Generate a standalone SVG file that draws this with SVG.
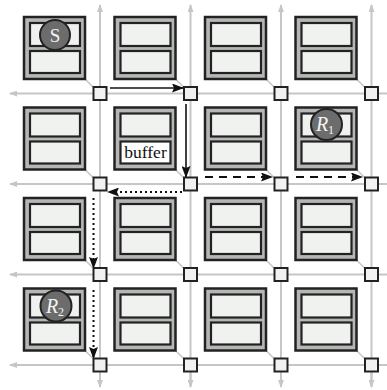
<svg xmlns="http://www.w3.org/2000/svg" width="387" height="390" viewBox="0 0 387 390">
<defs>
<style>
.g{stroke:#c6c6c6;stroke-width:2;fill:none}
.gd{stroke:#c6c6c6;stroke-width:1.5;fill:none}
.tile{fill:#b6b6b6;stroke:#222;stroke-width:2.5}
.in{fill:#f0f2f0;stroke:#222;stroke-width:2.2}
.rt{fill:#f0f2f0;stroke:#222;stroke-width:2}
.a{stroke:#111;stroke-width:1.6;fill:none}
.dot{stroke:#111;stroke-width:2;fill:none;stroke-dasharray:2 3}
.dash{stroke:#111;stroke-width:2;fill:none;stroke-dasharray:8 6}
.c{fill:#6c6c6c;stroke:#222;stroke-width:2}
.ct{fill:#f4f4f4;font-family:'Liberation Serif','DejaVu Serif',serif}
</style>
<marker id="ah" markerWidth="12" markerHeight="9" refX="11" refY="4.5" orient="auto" markerUnits="userSpaceOnUse"><path d="M0,0 L12,4.5 L0,9 L2,4.5 Z" fill="#111"/></marker>
<marker id="gh" markerWidth="8" markerHeight="6" refX="7" refY="3" orient="auto" markerUnits="userSpaceOnUse"><path d="M0,0 L8,3 L0,6 Z" fill="#c6c6c6"/></marker>
</defs>
<g id="grid">
<line class="g" x1="100" y1="386" x2="100" y2="5" marker-end="url(#gh)"/>
<line class="g" x1="190.5" y1="386" x2="190.5" y2="5" marker-end="url(#gh)"/>
<line class="g" x1="281" y1="386" x2="281" y2="5" marker-end="url(#gh)"/>
<line class="g" x1="371.5" y1="386" x2="371.5" y2="5" marker-end="url(#gh)"/>
<line class="g" x1="100" y1="372" x2="100" y2="387" marker-end="url(#gh)"/>
<line class="g" x1="190.5" y1="372" x2="190.5" y2="387" marker-end="url(#gh)"/>
<line class="g" x1="281" y1="372" x2="281" y2="387" marker-end="url(#gh)"/>
<line class="g" x1="371.5" y1="372" x2="371.5" y2="387" marker-end="url(#gh)"/>
<line class="g" x1="387" y1="93.5" x2="10" y2="93.5" marker-end="url(#gh)"/>
<line class="g" x1="387" y1="184" x2="10" y2="184" marker-end="url(#gh)"/>
<line class="g" x1="387" y1="274.5" x2="10" y2="274.5" marker-end="url(#gh)"/>
<line class="g" x1="387" y1="365" x2="10" y2="365" marker-end="url(#gh)"/>
</g>
<g id="links">
<path class="gd" d="M85,79L93,87M175.5,79L183.5,87M266,79L274,87M356.5,79L364.5,87M85,169.5L93,177.5M175.5,169.5L183.5,177.5M266,169.5L274,177.5M356.5,169.5L364.5,177.5M85,260L93,268M175.5,260L183.5,268M266,260L274,268M356.5,260L364.5,268M85,350.5L93,358.5M175.5,350.5L183.5,358.5M266,350.5L274,358.5M356.5,350.5L364.5,358.5"/>
</g>
<g id="tiles">
<g id="pe11"><rect class="tile" x="24" y="17" width="61" height="62"/><rect class="in" x="30" y="23" width="50" height="23"/><rect class="in" x="30" y="51" width="50" height="22"/></g>
<g id="pe12"><rect class="tile" x="114.5" y="17" width="61" height="62"/><rect class="in" x="120.5" y="23" width="50" height="23"/><rect class="in" x="120.5" y="51" width="50" height="22"/></g>
<g id="pe13"><rect class="tile" x="205" y="17" width="61" height="62"/><rect class="in" x="211" y="23" width="50" height="23"/><rect class="in" x="211" y="51" width="50" height="22"/></g>
<g id="pe14"><rect class="tile" x="295.5" y="17" width="61" height="62"/><rect class="in" x="301.5" y="23" width="50" height="23"/><rect class="in" x="301.5" y="51" width="50" height="22"/></g>
<g id="pe21"><rect class="tile" x="24" y="107.5" width="61" height="62"/><rect class="in" x="30" y="113.5" width="50" height="23"/><rect class="in" x="30" y="141.5" width="50" height="22"/></g>
<g id="pe22"><rect class="tile" x="114.5" y="107.5" width="61" height="62"/><rect class="in" x="120.5" y="113.5" width="50" height="23"/><rect class="in" x="120.5" y="141.5" width="50" height="22" style="fill:#fff"/><text x="145.5" y="157.5" text-anchor="middle" font-family="'Liberation Serif','DejaVu Serif',serif" font-size="17.5" fill="#111">buffer</text></g>
<g id="pe23"><rect class="tile" x="205" y="107.5" width="61" height="62"/><rect class="in" x="211" y="113.5" width="50" height="23"/><rect class="in" x="211" y="141.5" width="50" height="22"/></g>
<g id="pe24"><rect class="tile" x="295.5" y="107.5" width="61" height="62"/><rect class="in" x="301.5" y="113.5" width="50" height="23"/><rect class="in" x="301.5" y="141.5" width="50" height="22"/></g>
<g id="pe31"><rect class="tile" x="24" y="198" width="61" height="62"/><rect class="in" x="30" y="204" width="50" height="23"/><rect class="in" x="30" y="232" width="50" height="22"/></g>
<g id="pe32"><rect class="tile" x="114.5" y="198" width="61" height="62"/><rect class="in" x="120.5" y="204" width="50" height="23"/><rect class="in" x="120.5" y="232" width="50" height="22"/></g>
<g id="pe33"><rect class="tile" x="205" y="198" width="61" height="62"/><rect class="in" x="211" y="204" width="50" height="23"/><rect class="in" x="211" y="232" width="50" height="22"/></g>
<g id="pe34"><rect class="tile" x="295.5" y="198" width="61" height="62"/><rect class="in" x="301.5" y="204" width="50" height="23"/><rect class="in" x="301.5" y="232" width="50" height="22"/></g>
<g id="pe41"><rect class="tile" x="24" y="288.5" width="61" height="62"/><rect class="in" x="30" y="294.5" width="50" height="23"/><rect class="in" x="30" y="322.5" width="50" height="22"/></g>
<g id="pe42"><rect class="tile" x="114.5" y="288.5" width="61" height="62"/><rect class="in" x="120.5" y="294.5" width="50" height="23"/><rect class="in" x="120.5" y="322.5" width="50" height="22"/></g>
<g id="pe43"><rect class="tile" x="205" y="288.5" width="61" height="62"/><rect class="in" x="211" y="294.5" width="50" height="23"/><rect class="in" x="211" y="322.5" width="50" height="22"/></g>
<g id="pe44"><rect class="tile" x="295.5" y="288.5" width="61" height="62"/><rect class="in" x="301.5" y="294.5" width="50" height="23"/><rect class="in" x="301.5" y="322.5" width="50" height="22"/></g>
</g>
<g id="routers">
<rect class="rt" x="93.5" y="87" width="13" height="13"/><rect class="rt" x="184" y="87" width="13" height="13"/><rect class="rt" x="274.5" y="87" width="13" height="13"/><rect class="rt" x="365" y="87" width="13" height="13"/>
<rect class="rt" x="93.5" y="177.5" width="13" height="13"/><rect class="rt" x="184" y="177.5" width="13" height="13"/><rect class="rt" x="274.5" y="177.5" width="13" height="13"/><rect class="rt" x="365" y="177.5" width="13" height="13"/>
<rect class="rt" x="93.5" y="268" width="13" height="13"/><rect class="rt" x="184" y="268" width="13" height="13"/><rect class="rt" x="274.5" y="268" width="13" height="13"/><rect class="rt" x="365" y="268" width="13" height="13"/>
<rect class="rt" x="93.5" y="358.5" width="13" height="13"/><rect class="rt" x="184" y="358.5" width="13" height="13"/><rect class="rt" x="274.5" y="358.5" width="13" height="13"/><rect class="rt" x="365" y="358.5" width="13" height="13"/>
</g>
<g id="connectors">
<line class="a" x1="110" y1="88" x2="183" y2="88" marker-end="url(#ah)"/>
<line class="a" x1="186" y1="104" x2="186" y2="177" marker-end="url(#ah)"/>
<line class="dot" x1="182" y1="192" x2="108" y2="192" marker-end="url(#ah)"/>
<line class="dash" x1="205" y1="177" x2="272" y2="177" marker-end="url(#ah)"/>
<line class="dash" x1="296" y1="177" x2="362" y2="177" marker-end="url(#ah)"/>
<line class="dot" x1="93.5" y1="198" x2="93.5" y2="268" marker-end="url(#ah)"/>
<line class="dot" x1="93.5" y1="290" x2="93.5" y2="358" marker-end="url(#ah)"/>
</g>
<g id="S"><circle class="c" cx="55" cy="35" r="15"/><text class="ct" x="55" y="41.5" text-anchor="middle" font-size="19">S</text></g>
<g id="R1"><circle class="c" cx="326.5" cy="124.5" r="15.5"/><text class="ct" x="325" y="131" text-anchor="middle" font-size="20" font-style="italic">R<tspan font-size="12" font-style="normal" dy="3">1</tspan></text></g>
<g id="R2"><circle class="c" cx="56" cy="306" r="15.5"/><text class="ct" x="55" y="312.5" text-anchor="middle" font-size="20" font-style="italic">R<tspan font-size="12" font-style="normal" dy="3">2</tspan></text></g>
</svg>
